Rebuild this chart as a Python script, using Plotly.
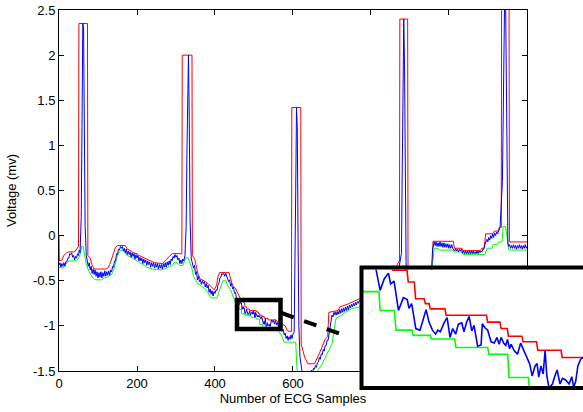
import plotly.graph_objects as go

# ---------------- data ----------------
# original ECG samples (blue)
blue_pts = [
    (0, -0.33), (2.5, -0.30), (5, -0.35), (7.5, -0.31), (10, -0.34), (12.5, -0.30), (15, -0.34),
    (17.5, -0.29), (20, -0.29), (22.5, -0.25), (25, -0.25), (27.5, -0.20), (30, -0.21),
    (32.5, -0.19), (35, -0.24), (37.5, -0.22), (40, -0.27), (42.5, -0.23), (45, -0.25),
    (47.5, -0.20), (50, -0.22), (52, -0.16), (54, -0.19), (57, 0.2), (59, 1.2),
    (61, 2.35), (63, 2.3), (65, 1.1), (67, 0.1), (70, -0.22), (73, -0.30),
    (75, -0.34), (77.5, -0.30), (80, -0.38), (82.5, -0.34), (85, -0.42), (87.5, -0.37),
    (90, -0.43), (92.5, -0.38), (95, -0.45), (97.5, -0.40), (100, -0.47), (102.5, -0.41),
    (105, -0.46), (107.5, -0.40), (110, -0.47), (112.5, -0.41), (115, -0.45), (117.5, -0.39),
    (120, -0.45), (122.5, -0.40), (125, -0.44), (127.5, -0.39), (130, -0.44), (132.5, -0.38),
    (135, -0.40), (137.5, -0.34), (140, -0.35), (142.5, -0.28), (145, -0.28), (147.5, -0.20),
    (150, -0.21), (152.5, -0.15), (155, -0.16), (157.5, -0.12), (160, -0.14), (162.5, -0.12),
    (165, -0.17), (167.5, -0.14), (170, -0.19), (172.5, -0.15), (175, -0.21), (177.5, -0.17),
    (180, -0.21), (182.5, -0.18), (185, -0.24), (187.5, -0.19), (190, -0.23), (192.5, -0.20),
    (195, -0.26), (197.5, -0.21), (200, -0.25), (202.5, -0.22), (205, -0.28), (207.5, -0.24),
    (210, -0.28), (212.5, -0.25), (215, -0.31), (217.5, -0.26), (220, -0.30), (222.5, -0.27),
    (225, -0.33), (227.5, -0.28), (230, -0.32), (232.5, -0.29), (235, -0.35), (237.5, -0.30),
    (240, -0.34), (242.5, -0.30), (245, -0.36), (247.5, -0.31), (250, -0.35), (252.5, -0.31),
    (255, -0.37), (257.5, -0.32), (260, -0.36), (262.5, -0.32), (265, -0.37), (267.5, -0.31),
    (270, -0.35), (272.5, -0.30), (275, -0.35), (277.5, -0.29), (280, -0.33), (282.5, -0.28),
    (285, -0.32), (287.5, -0.26), (290, -0.28), (292.5, -0.23), (295, -0.25), (297.5, -0.21),
    (300, -0.24), (302.5, -0.22), (305, -0.27), (307.5, -0.25), (310, -0.31), (312.5, -0.27),
    (315, -0.31), (317.5, -0.26), (320, -0.28),
    (323, -0.22), (326, 0.1), (328, 0.9), (330, 1.9), (332, 2.0), (334, 1.3), (336, 0.2),
    (339, -0.25), (342, -0.30), (345, -0.36), (347.5, -0.33), (350, -0.43), (352.5, -0.40),
    (355, -0.49), (357.5, -0.45), (360, -0.51), (362.5, -0.49), (365, -0.54), (367.5, -0.50),
    (370, -0.53), (372.5, -0.51), (375, -0.57), (377.5, -0.53), (380, -0.58), (382.5, -0.55),
    (385, -0.63), (387.5, -0.59), (390, -0.65), (392.5, -0.61), (395, -0.67), (397.5, -0.62),
    (400, -0.64), (402.5, -0.60), (405, -0.61), (407.5, -0.55), (410, -0.53), (412.5, -0.47),
    (415, -0.46), (417.5, -0.42), (420, -0.43), (422.5, -0.42), (425, -0.45), (427.5, -0.42),
    (430, -0.45), (432.5, -0.46), (435, -0.51), (437.5, -0.49), (440, -0.56), (442.5, -0.53),
    (445, -0.59), (447.5, -0.57), (450, -0.64), (452.5, -0.63), (455, -0.69),
    (458, -0.70), (460, -0.705), (462, -0.767), (463.7, -0.738),
    (465.4, -0.724), (466.3, -0.751), (467.7, -0.744), (469.5, -0.817), (471.5, -0.785),
    (473.1, -0.790), (473.8, -0.812), (474.9, -0.800), (476.6, -0.862), (478.3, -0.866),
    (480.8, -0.815), (482.0, -0.846), (483.4, -0.866), (484.7, -0.876), (485.6, -0.866),
    (486.6, -0.870), (488.3, -0.846), (489.4, -0.835), (490.6, -0.884), (491.7, -0.862),
    (492.9, -0.876), (494.0, -0.851), (495.4, -0.848), (496.3, -0.870), (497.4, -0.846),
    (498.4, -0.832), (499.5, -0.868), (500.4, -0.854), (501.9, -0.906), (503.3, -0.903),
    (503.8, -0.850), (504.9, -0.860), (506.0, -0.866), (507.4, -0.895), (508.7, -0.898),
    (509.8, -0.884), (510.7, -0.901), (511.5, -0.884), (512.6, -0.899), (513.4, -0.904),
    (514.1, -0.889), (514.9, -0.912), (515.6, -0.901), (516.8, -0.917), (518.2, -0.926),
    (519.5, -0.898), (520.8, -0.917), (522.1, -0.934), (523.2, -0.950), (524.2, -0.980),
    (525.4, -0.955), (526.2, -0.949), (526.9, -0.983), (527.8, -0.955), (528.7, -0.975),
    (529.5, -0.916), (530.2, -0.980), (531.1, -1.010), (532.5, -1.000), (533.6, -0.978),
    (534.4, -0.965), (535.6, -1.000), (536.6, -0.986), (537.9, -0.990), (539.3, -1.000),
    (540.4, -0.982), (541.2, -1.008), (542.0, -0.994), (542.9, -0.955), (544.0, -0.939),
    (545.0, -0.934), (547.5, -0.96), (550, -0.935), (552.5, -0.98), (555, -0.94), (557.5, -0.99),
    (560, -0.96), (562.5, -1.01), (565, -0.97), (567.5, -1.03), (570, -1.00), (572.5, -1.06),
    (575, -1.04), (577.5, -1.10), (580, -1.08), (582.5, -1.14), (585, -1.11), (587.5, -1.16),
    (590, -1.12), (592.5, -1.15), (595, -1.10), (597.5, -1.14), (600, -1.09), (603, -1.07),
    (605, -0.5), (607, 0.5), (609, 1.42), (611, 1.2), (613, 0.0),
    (615, -1.0), (618, -1.35), (621, -1.48), (623, -1.50), (625, -1.53), (627.5, -1.50),
    (630, -1.56), (632.5, -1.52), (635, -1.55), (637.5, -1.51), (640, -1.57), (642.5, -1.52),
    (645, -1.54), (647.5, -1.49), (650, -1.52), (652.5, -1.47), (655, -1.48), (657.5, -1.44),
    (660, -1.46), (662.5, -1.41), (665, -1.40), (667.5, -1.35), (670, -1.37), (672.5, -1.31),
    (675, -1.32), (677.5, -1.26), (680, -1.28), (682.5, -1.22), (685, -1.22), (687.5, -1.16),
    (690, -1.16), (694, -1.05), (698, -0.92), (700, -0.88), (702.5, -0.90), (705, -0.85),
    (707.5, -0.88), (710, -0.845), (712.5, -0.88), (715, -0.84), (717.5, -0.87), (720, -0.82),
    (722.5, -0.86), (725, -0.81), (727.5, -0.85), (730, -0.80), (732.5, -0.84), (735, -0.79),
    (737.5, -0.83), (740, -0.78), (742.5, -0.82), (745, -0.77), (747.5, -0.80), (750, -0.76),
    (752.5, -0.79), (755, -0.75), (757.5, -0.78), (760, -0.74), (762.5, -0.77), (765, -0.73),
    (767.5, -0.75), (770, -0.72), (780, -0.72), (790, -0.68),
    (800, -0.64), (810, -0.60), (820, -0.55), (830, -0.51), (840, -0.48), (850, -0.45),
    (860, -0.43), (866, -0.40), (872, -0.35), (878, -0.2), (880, 0.6), (882, 1.8), (884, 2.40),
    (886, 1.9), (888, 0.5), (890, -0.3), (893, -0.5), (897, -0.55), (900, -0.55), (910, -0.52),
    (920, -0.50), (930, -0.49), (940, -0.47), (950, -0.44), (955, -0.40), (958, -0.15),
    (960, -0.10), (962, -0.07), (964.5, -0.11), (967, -0.07), (969.5, -0.12), (972, -0.08),
    (974.5, -0.12), (977, -0.07), (979.5, -0.12), (982, -0.08), (984.5, -0.13), (987, -0.08),
    (989.5, -0.13), (992, -0.09), (994.5, -0.13), (997, -0.09), (999.5, -0.14), (1002, -0.10),
    (1004.5, -0.14), (1007, -0.10), (1009.5, -0.14), (1012, -0.15), (1014.5, -0.17),
    (1017, -0.145), (1019.5, -0.17), (1022, -0.15), (1024.5, -0.18), (1027, -0.15),
    (1029.5, -0.17), (1032, -0.15), (1034.5, -0.19), (1037, -0.17), (1039.5, -0.20),
    (1042, -0.17), (1044.5, -0.20), (1047, -0.17), (1049.5, -0.20), (1052, -0.17),
    (1054.5, -0.20), (1057, -0.17), (1059.5, -0.20), (1062, -0.17), (1064.5, -0.20),
    (1067, -0.18), (1069.5, -0.20), (1072, -0.17), (1074.5, -0.20), (1077, -0.17),
    (1079.5, -0.19), (1082, -0.17), (1084.5, -0.18), (1087, -0.15), (1089.5, -0.15),
    (1092, -0.10), (1094.5, -0.06), (1097, -0.04), (1099.5, -0.07), (1102, -0.02),
    (1104.5, -0.05), (1107, 0.00), (1109.5, -0.03), (1112, 0.02), (1114.5, -0.02), (1117, 0.03),
    (1119.5, 0.00), (1122, 0.04), (1124.5, 0.02), (1127, 0.05), (1129.5, 0.07), (1131, 0.09),
    (1137, 0.6), (1140, 1.9), (1143, 2.75), (1145, 2.7), (1147, 1.4), (1149, 0.2), (1151, -0.08),
    (1153, -0.12), (1155.5, -0.10), (1158, -0.14), (1160.5, -0.11), (1163, -0.14),
    (1165.5, -0.10), (1168, -0.14), (1170.5, -0.11), (1173, -0.15), (1175.5, -0.11),
    (1178, -0.14), (1180.5, -0.10), (1183, -0.14), (1185.5, -0.11), (1188, -0.15),
    (1190.5, -0.11), (1193, -0.14), (1195.5, -0.10), (1198, -0.14), (1200, -0.12),
]

# upper envelope (red)
red_pts = [
    (0, 0.0), (1, -0.28), (8, -0.27), (12, -0.22), (20, -0.19), (25, -0.18), (40, -0.18),
    (45, -0.15), (50, -0.12), (51, 2.35), (73, 2.35), (74, -0.22), (80, -0.25), (85, -0.33),
    (90, -0.37), (120, -0.37), (125, -0.36), (130, -0.32), (135, -0.25), (140, -0.18),
    (145, -0.13), (150, -0.11), (170, -0.11), (175, -0.15), (185, -0.17), (190, -0.19),
    (200, -0.20), (205, -0.22), (215, -0.24), (225, -0.26), (235, -0.28), (245, -0.30),
    (265, -0.31), (270, -0.29), (280, -0.24), (290, -0.20), (315, -0.20), (316, 2.0),
    (341, 2.0), (342, -0.22), (348, -0.26), (352, -0.35), (356, -0.42), (362, -0.48),
    (372, -0.50), (382, -0.53), (392, -0.58), (398, -0.60), (404, -0.55), (408, -0.45),
    (412, -0.41), (436, -0.41), (440, -0.48), (445, -0.55), (452, -0.58), (458, -0.63),
    (462, -0.67), (466.5, -0.70), (467.2, -0.717), (473, -0.717), (473.5, -0.746),
    (476, -0.746), (476.5, -0.788), (480, -0.788), (480.5, -0.800), (482, -0.800),
    (482.5, -0.813), (488.5, -0.813), (489, -0.829), (505.5, -0.829), (506, -0.846),
    (511, -0.846), (511.5, -0.862), (514, -0.862), (514.5, -0.881), (520, -0.881),
    (520.5, -0.895), (526, -0.895), (526.5, -0.916), (536, -0.916), (536.5, -0.934),
    (550, -0.934), (555, -0.93), (560, -0.95), (568, -0.95), (572, -0.98), (580, -1.0),
    (585, -1.05), (590, -1.06), (596, -1.06), (597, 1.42), (620, 1.42), (621, -1.2),
    (630, -1.35), (638, -1.42), (655, -1.42), (660, -1.38), (668, -1.30), (674, -1.24),
    (682, -1.15), (689, -1.12), (692, -0.85), (716, -0.83), (720, -0.79), (740, -0.76),
    (750, -0.74), (770, -0.70), (780, -0.66), (800, -0.60), (820, -0.52), (840, -0.45),
    (860, -0.38), (866, -0.33), (873, -0.28), (874, 2.40), (894, 2.40), (895, -0.42),
    (950, -0.42), (957, -0.40), (959, -0.063), (1011, -0.063), (1014, -0.14), (1033, -0.14),
    (1036, -0.166), (1080, -0.166), (1084, -0.14), (1090, -0.14), (1094, 0.02), (1112, 0.02),
    (1116, 0.05), (1126, 0.05), (1129, 0.09), (1134, 0.09), (1135, 2.75), (1154, 2.75),
    (1155, -0.07), (1200, -0.07),
]

# lower envelope (green)
green_pts = [
    (0, -0.35), (10, -0.36), (15, -0.33), (20, -0.30), (25, -0.28), (45, -0.28), (50, -0.25),
    (55, -0.20), (58, -0.12), (62, -0.12), (65, -0.20), (70, -0.32), (75, -0.38), (80, -0.42),
    (85, -0.46), (90, -0.48), (95, -0.49), (110, -0.49), (115, -0.47), (125, -0.46),
    (135, -0.43), (140, -0.38), (145, -0.30), (150, -0.22), (155, -0.18), (160, -0.16),
    (168, -0.18), (175, -0.22), (185, -0.24), (195, -0.27), (205, -0.30), (215, -0.33),
    (225, -0.35), (240, -0.37), (260, -0.38), (270, -0.37), (280, -0.35), (290, -0.33),
    (295, -0.30), (300, -0.29), (310, -0.33), (318, -0.33), (322, -0.28), (326, -0.24),
    (330, -0.24), (335, -0.30), (340, -0.35), (345, -0.45), (350, -0.50), (355, -0.53),
    (365, -0.56), (375, -0.59), (380, -0.62), (385, -0.66), (390, -0.69), (405, -0.69),
    (410, -0.62), (415, -0.55), (420, -0.50), (428, -0.50), (432, -0.55), (440, -0.60),
    (445, -0.65), (450, -0.70), (455, -0.77), (461.5, -0.77), (462, -0.817), (467.8, -0.817),
    (468.5, -0.866), (475, -0.866), (475.5, -0.879), (482.5, -0.879), (483, -0.888),
    (492.5, -0.888), (493, -0.909), (506, -0.909), (506.5, -0.926), (514.2, -0.926),
    (514.7, -0.984), (522.7, -0.984), (523.2, -1.02), (535, -1.02), (545, -1.02),
    (552, -1.03), (560, -1.05), (570, -1.10), (577, -1.18), (607, -1.18), (610, -1.46),
    (614, -1.58), (640, -1.60), (655, -1.55), (665, -1.49), (675, -1.42), (685, -1.33),
    (693, -1.26), (700, -1.20), (705, -1.05), (710, -0.92), (728, -0.87), (750, -0.81),
    (770, -0.79), (800, -0.70), (830, -0.58), (860, -0.49), (875, -0.46), (880, -0.43),
    (886, -0.50), (892, -0.58), (945, -0.58), (950, -0.50), (955, -0.42), (962, -0.14),
    (972, -0.14), (975, -0.16), (1010, -0.16), (1013, -0.18), (1033, -0.18), (1036, -0.21),
    (1092, -0.21), (1098, -0.14), (1110, -0.14), (1113, -0.10), (1124, -0.10), (1127, -0.07),
    (1136, -0.07), (1139, 0.10), (1145, 0.10), (1150, -0.05), (1153, -0.16), (1200, -0.16),
]

blue_x = [p[0] for p in blue_pts]
blue_y = [p[1] for p in blue_pts]
red_x = [p[0] for p in red_pts]
red_y = [p[1] for p in red_pts]
green_x = [p[0] for p in green_pts]
green_y = [p[1] for p in green_pts]

x_tick_vals = [0, 200, 400, 600, 800, 1000, 1200]
x_tick_text = ["0", "200", "400", "600", "800", "1000", "1200"]
y_tick_vals = [-1.5, -1, -0.5, 0, 0.5, 1, 1.5, 2, 2.5]
y_tick_text = ["-1.5", "-1", "-0.5", "0", "0.5", "1", "1.5", "2", "2.5"]

x_range = [0, 1200]
y_range = [-1.5, 2.5]
zoom_box_x = [456.4, 568]          # region magnified in the inset
zoom_box_y = [-1.035, -0.714]
inset_x_range = [455, 545]         # visible part of the inset (right side cut by the page)
inset_y_range = [-1.005, -0.715]

# ---------------- figure ----------------
FONT = "Arial, Liberation Sans, sans-serif"
series = [(red_x, red_y, "#ff0000"), (green_x, green_y, "#00ff00"), (blue_x, blue_y, "#0000ff")]

fig = go.Figure()
for xs, ys, col in series:
    fig.add_trace(go.Scatter(x=xs, y=ys, mode="lines", line=dict(color=col, width=1),
                             xaxis="x", yaxis="y", hoverinfo="skip", showlegend=False))
for xs, ys, col in series:
    fig.add_trace(go.Scatter(x=xs, y=ys, mode="lines", line=dict(color=col, width=1.6),
                             xaxis="x2", yaxis="y2", hoverinfo="skip", showlegend=False))

axis_common = dict(showgrid=False, zeroline=False, showline=True, linecolor="black",
                   linewidth=1, mirror="ticks", ticks="inside", ticklen=5, automargin=False,
                   tickcolor="black", tickfont=dict(family=FONT, size=13, color="black"))

fig.update_layout(
    width=583, height=412,
    margin=dict(l=59, r=0, t=10, b=20, autoexpand=False),
    paper_bgcolor="white", plot_bgcolor="white",
    font=dict(family=FONT, size=13, color="black"),
    showlegend=False,
    xaxis=dict(domain=[0, 0.8931], range=x_range, tickmode="array", tickvals=x_tick_vals,
               ticktext=x_tick_text, anchor="y",
               title=dict(text="Number of ECG Samples", font=dict(family=FONT, size=13), standoff=2),
               **axis_common),
    yaxis=dict(domain=[0.05497, 1], range=y_range, tickmode="array", tickvals=y_tick_vals,
               ticktext=y_tick_text, anchor="x",
               title=dict(text="Voltage (mv)", font=dict(family=FONT, size=13), standoff=13),
               **axis_common),
    xaxis2=dict(domain=[0.5802, 1], range=inset_x_range, anchor="y2", showgrid=False,
                zeroline=False, showline=False, showticklabels=False, ticks="", automargin=False),
    yaxis2=dict(domain=[0.0157, 0.3207], range=inset_y_range, anchor="x2", showgrid=False,
                zeroline=False, showline=False, showticklabels=False, ticks="", automargin=False),
    shapes=[
        dict(type="rect", xref="x", yref="y", x0=zoom_box_x[0], x1=zoom_box_x[1],
             y0=zoom_box_y[0], y1=zoom_box_y[1], line=dict(color="black", width=4.5),
             fillcolor="rgba(0,0,0,0)", layer="above"),
        dict(type="line", xref="paper", yref="paper", x0=0.4246, y0=0.2068, x1=0.5534, y1=0.144,
             line=dict(color="black", width=4, dash="13px,11px"), layer="above"),
        dict(type="rect", xref="paper", yref="paper", x0=0.5773, x1=1.2, y0=0.01047, y1=0.3259,
             line=dict(color="black", width=4), fillcolor="rgba(0,0,0,0)", layer="above"),
    ],
)

# the page's default 8px body margin would shift the 583x412 figure; remove it
fig.write_html("out.html", config={"displayModeBar": False, "staticPlot": True},
               post_script="document.body.style.margin='0';document.body.style.overflow='hidden';")
